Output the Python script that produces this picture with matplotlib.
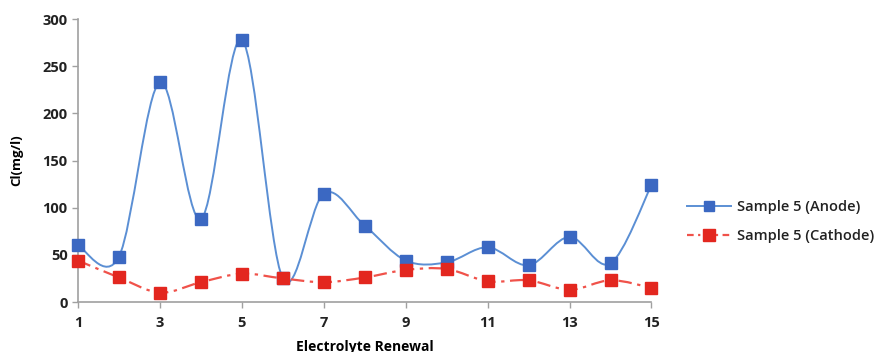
import matplotlib.pyplot as plt
from matplotlib.path import Path
from matplotlib.patches import PathPatch
from matplotlib.lines import Line2D

renewal = [1, 2, 3, 4, 5, 6, 7, 8, 9, 10, 11, 12, 13, 14, 15]
anode = [60, 48, 233, 88, 278, 25, 115, 81, 44, 42, 58, 39, 69, 41, 124]
cathode = [44, 26, 10, 21, 30, 25, 21, 26, 34, 35, 22, 23, 13, 23, 15]
xticks = [1, 3, 5, 7, 9, 11, 13, 15]
yticks = [0, 50, 100, 150, 200, 250, 300]

plt.rcParams['font.family'] = ['Open Sans', 'DejaVu Sans']


def smooth_path(xs, ys):
    # excel-style smoothed line: catmull-rom segments as cubic beziers
    pts = list(zip(xs, ys))
    verts = [pts[0]]
    codes = [Path.MOVETO]
    n = len(pts)
    for i in range(n - 1):
        p0 = pts[max(i - 1, 0)]
        p1 = pts[i]
        p2 = pts[i + 1]
        p3 = pts[min(i + 2, n - 1)]
        c1 = (p1[0] + (p2[0] - p0[0]) / 6, p1[1] + (p2[1] - p0[1]) / 6)
        c2 = (p2[0] - (p3[0] - p1[0]) / 6, p2[1] - (p3[1] - p1[1]) / 6)
        verts += [c1, c2, p2]
        codes += [Path.CURVE4] * 3
    return Path(verts, codes)


fig = plt.figure(figsize=(8.81, 3.52), dpi=100)
ax = fig.add_axes([0.0885, 0.142, 0.651, 0.804])

blue_line = '#5b8fd4'
blue_mark = '#3b68c2'
red_line = '#f0524a'
red_mark = '#e3271f'

ax.add_patch(PathPatch(smooth_path(renewal, anode), fill=False, edgecolor=blue_line, lw=1.4,
                       zorder=2, clip_on=False))
ax.add_patch(PathPatch(smooth_path(renewal, cathode), fill=False, edgecolor=red_line, lw=1.6,
                       linestyle=(0, (6, 2.5, 1.5, 2.5)), zorder=2, clip_on=False))
ax.plot(renewal, anode, linestyle='none', marker='s', ms=8, color=blue_mark, zorder=3, clip_on=False)
ax.plot(renewal, cathode, linestyle='none', marker='s', ms=8.5, color=red_mark, zorder=3, clip_on=False)

ax.set_xlim(1, 15)
ax.set_ylim(0, 300)
ax.set_xticks(xticks)
ax.set_yticks(yticks)
ax.tick_params(axis='both', labelsize=10.5, color='#a0a0a0', length=4, width=1)
for lab in ax.get_xticklabels() + ax.get_yticklabels():
    lab.set_fontweight('bold')
    lab.set_color('#222222')
ax.tick_params(axis='x', pad=6)
for s in ['top', 'right']:
    ax.spines[s].set_visible(False)
for s in ['left', 'bottom']:
    ax.spines[s].set_color('#a0a0a0')
    ax.spines[s].set_linewidth(1.2)
ax.spines['bottom'].set_bounds(1, 15)

ax.set_xlabel('Electrolyte Renewal', fontsize=10, fontweight='bold', labelpad=7)
ax.set_ylabel('Cl(mg/l)', fontsize=9.5, fontweight='bold', labelpad=14)

handles = [
    Line2D([], [], color=blue_line, lw=1.4, marker='s', ms=7, mfc=blue_mark, mec=blue_mark),
    Line2D([], [], color=red_line, lw=1.6, linestyle=(0, (3, 2, 1, 2)), marker='s', ms=8, mfc=red_mark, mec=red_mark),
]
leg = fig.legend(handles, ['Sample 5 (Anode)', 'Sample 5 (Cathode)'], loc='center left',
                 bbox_to_anchor=(0.765, 0.37), frameon=False, fontsize=10.5, handlelength=3.0,
                 labelspacing=1.05, handletextpad=0.4)
for t in leg.get_texts():
    t.set_fontweight('semibold')
    t.set_color('#222222')

fig.savefig('out.png', dpi=100)
